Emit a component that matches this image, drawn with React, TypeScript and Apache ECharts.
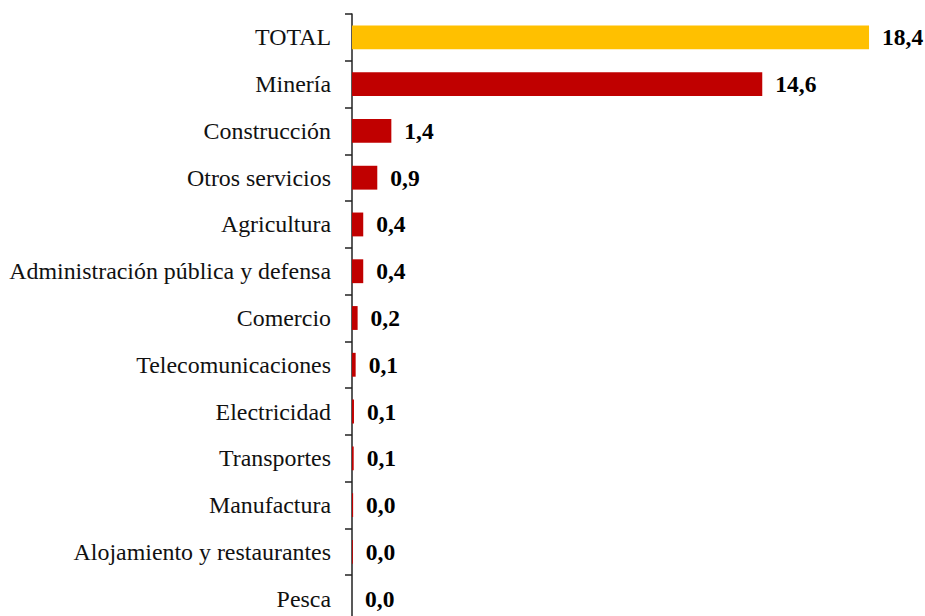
import React, { useEffect, useRef } from "react";
import * as echarts from "echarts";

const categories = [
  "TOTAL",
  "Minería",
  "Construcción",
  "Otros servicios",
  "Agricultura",
  "Administración pública y defensa",
  "Comercio",
  "Telecomunicaciones",
  "Electricidad",
  "Transportes",
  "Manufactura",
  "Alojamiento y restaurantes",
  "Pesca",
];
const values = [18.4, 14.6, 1.4, 0.9, 0.4, 0.4, 0.2, 0.13, 0.07, 0.06, 0.04, 0.03, 0.0];
const totalColor = "#FFC000";
const sectorColor = "#C00000";

export default function App() {
  const ref = useRef<HTMLDivElement>(null);
  useEffect(() => {
    if (!ref.current) return;
    const chart = echarts.init(ref.current, null, { renderer: "svg" });
    chart.setOption({
      animation: false,
      backgroundColor: "#ffffff",
      grid: { left: 352, top: 14, width: 562, height: 608, containLabel: false },
      xAxis: {
        type: "value",
        min: 0,
        max: 20,
        show: false,
      },
      yAxis: {
        type: "category",
        inverse: true,
        data: categories,
        axisLine: { show: true, lineStyle: { color: "#222", width: 1.5 } },
        axisTick: { show: true, length: 7, lineStyle: { color: "#222", width: 1.5 } },
        axisLabel: {
          margin: 21,
          color: "#111",
          fontFamily: "'Times New Roman', 'Liberation Serif', serif",
          fontSize: 23.9,
        },
        splitLine: { show: false },
      },
      series: [
        {
          type: "bar",
          barCategoryGap: "49%",
          data: values.map((v, i) => ({
            value: v,
            itemStyle: { color: i === 0 ? totalColor : sectorColor },
          })),
          label: {
            show: true,
            position: "right",
            distance: 13,
            color: "#000",
            fontFamily: "'Times New Roman', 'Liberation Serif', serif",
            fontWeight: "bold",
            fontSize: 23.5,
            formatter: (p: any) => Number(p.value).toFixed(1).replace(".", ","),
          },
        },
      ],
    });
    return () => chart.dispose();
  }, []);
  return (
    <div
      ref={ref}
      style={{ position: "fixed", left: 0, top: 0, width: 925, height: 640 }}
    />
  );
}
